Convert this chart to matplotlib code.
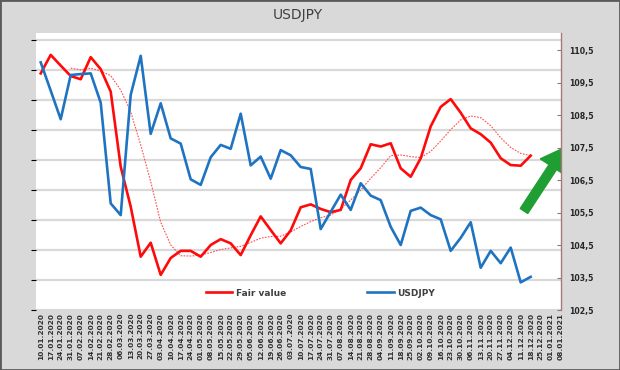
import numpy as np
import pandas as pd
import matplotlib
matplotlib.use('Agg')
import matplotlib.pyplot as plt
import matplotlib.patches as mpatches
from matplotlib.transforms import IdentityTransform
from matplotlib.ticker import FuncFormatter

# weekly dates (Friday), 10.01.2020 .. 08.01.2021
date_labels = list(pd.date_range('2020-01-10', periods=53, freq='7D').strftime('%d.%m.%Y'))

fair_value = [109.78, 110.35, 110.02, 109.70, 109.60, 110.28, 109.91, 109.22, 106.91, 105.68,
              104.14, 104.57, 103.58, 104.10, 104.32, 104.32, 104.14, 104.50, 104.68, 104.55,
              104.19, 104.80, 105.38, 104.96, 104.55, 104.95, 105.66, 105.75, 105.61, 105.51,
              105.58, 106.50, 106.86, 107.60, 107.53, 107.63, 106.86, 106.60, 107.17, 108.15,
              108.75, 108.99, 108.57, 108.09, 107.91, 107.65, 107.17, 106.96, 106.94, 107.25]

usdjpy = [110.12, 109.25, 108.37, 109.73, 109.76, 109.78, 108.88, 105.78, 105.42, 109.12,
          110.32, 107.92, 108.86, 107.78, 107.62, 106.52, 106.35, 107.20, 107.58, 107.46,
          108.54, 106.95, 107.22, 106.54, 107.42, 107.26, 106.90, 106.84, 104.99, 105.52,
          106.05, 105.58, 106.40, 106.02, 105.88, 105.06, 104.50, 105.55, 105.65, 105.42,
          105.29, 104.32, 104.72, 105.20, 103.80, 104.32, 103.94, 104.42, 103.35, 103.52]

# smoothed fair value (thin dotted line), starts at the 4th week
fair_smooth = [np.nan, np.nan, np.nan, 109.94, 109.89, 109.94, 109.85, 109.71, 109.27, 108.60,
               107.58, 106.45, 105.20, 104.50, 104.17, 104.16, 104.19, 104.27, 104.36, 104.41,
               104.46, 104.58, 104.71, 104.76, 104.77, 104.90, 105.07, 105.22, 105.34, 105.42,
               105.61, 105.88, 106.19, 106.55, 106.88, 107.25, 107.27, 107.22, 107.19, 107.38,
               107.70, 108.05, 108.35, 108.47, 108.42, 108.17, 107.80, 107.50, 107.32, 107.25]

right_ticks = [102.5, 103.5, 104.5, 105.5, 106.5, 107.5, 108.5, 109.5, 110.5]

W, H = 620, 370
fig = plt.figure(figsize=(W / 100, H / 100), dpi=100)
fig.patch.set_facecolor('#d9d9d9')
fig.patches.append(mpatches.Rectangle((0, 0), 1, 1, transform=fig.transFigure,
                                      fill=False, ec='#5a5a5a', lw=2))

# plot area in pixels: x 36..561, y 33..310
ax = fig.add_axes([36 / W, 1 - 310 / H, 525 / W, 277 / H])
ax.set_facecolor('white')
# the hidden primary axis only gives the grid
ax.set_ylim(0, 9 * 277 / 270)
ax.set_yticks(range(10))
ax.yaxis.grid(True, color='#d9d9d9', lw=1.6)
ax.tick_params(axis='y', left=False, labelleft=False)
for s in ax.spines.values():
    s.set_visible(False)

x = np.arange(len(date_labels))
ax.set_xlim(-0.47, 52.03)
ax.set_xticks(x)
ax.set_xticklabels(date_labels, rotation=90, fontsize=5.3, fontweight='bold', color='#303030')
ax.tick_params(axis='x', length=0, pad=2)

ax2 = ax.twinx()
ax2.patch.set_visible(False)
n = len(fair_value)
ax2.plot(x[:len(fair_smooth)], fair_smooth, color='#ff4d4d', lw=0.8, ls=(0, (1.5, 1.2)),
         label='_nolegend_')
ax2.plot(x[:n], fair_value, color='#ff0a0a', lw=1.9, label='Fair value')
ax2.plot(x[:len(usdjpy)], usdjpy, color='#1f74c2', lw=1.9, label='USDJPY')
ax2.set_ylim(102.5, 102.5 + 277 / 32.5)
ax2.set_xlim(-0.47, 52.03)
ax2.set_yticks(right_ticks)
ax2.yaxis.set_major_formatter(FuncFormatter(lambda v, p: f'{v:.1f}'.replace('.', ',')))
ax2.tick_params(axis='y', direction='in', length=3, color='#a07070', pad=6,
                labelsize=5.6, labelcolor='#262626')
for t in ax2.get_yticklabels():
    t.set_fontweight('bold')
for k, s in ax2.spines.items():
    s.set_visible(k == 'right')
ax2.spines['right'].set_color('#a87878')
ax2.spines['right'].set_linewidth(1.0)

leg = ax2.legend(loc='center', bbox_to_anchor=(0.542, 0.061), ncol=2, frameon=False,
                 handlelength=2.9, handletextpad=0.4, columnspacing=9.0,
                 prop={'size': 6.5, 'weight': 'bold'})
for t in leg.get_texts():
    t.set_color('#404040')

# green arrow (pixel coords, clipped by the plot area)
arrow = mpatches.FancyArrow(524, H - 211, 42, 64, width=9, head_width=30, head_length=24,
                            length_includes_head=True, color='#1f9f33',
                            transform=IdentityTransform())
ax2.add_patch(arrow)

fig.text(298 / W, 1 - 15.5 / H, 'USDJPY', ha='center', va='center', fontsize=10,
         color='#404040')

fig.savefig('out.png', dpi=100)
